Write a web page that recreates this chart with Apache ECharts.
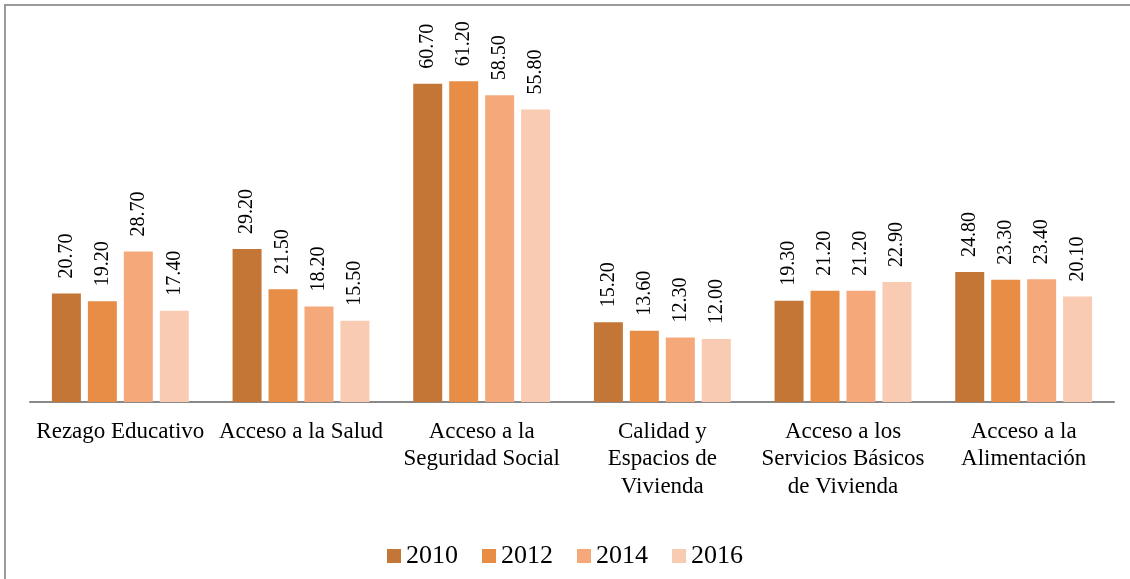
<!DOCTYPE html>
<html><head><meta charset="utf-8">
<script src="https://cdn.jsdelivr.net/npm/echarts@6/dist/echarts.min.js"></script>
<style>html,body{margin:0;padding:0;background:#fff}#c{width:1130px;height:579px}</style>
</head><body><div id="c"></div>
<script>
const categories = ["Rezago Educativo", "Acceso a la Salud", "Acceso a la\nSeguridad Social", "Calidad y\nEspacios de\nVivienda", "Acceso a los\nServicios Básicos\nde Vivienda", "Acceso a la\nAlimentación"];
const years = ["2010", "2012", "2014", "2016"];
const v2010 = [20.7, 29.2, 60.7, 15.2, 19.3, 24.8];
const v2012 = [19.2, 21.5, 61.2, 13.6, 21.2, 23.3];
const v2014 = [28.7, 18.2, 58.5, 12.3, 21.2, 23.4];
const v2016 = [17.4, 15.5, 55.8, 12.0, 22.9, 20.1];
const colors = ["#C47637", "#E88D45", "#F5A97A", "#F8CBB2"];
const seriesData = [v2010, v2012, v2014, v2016];
const chart = echarts.init(document.getElementById('c'));
const font = "'Liberation Serif', 'Times New Roman', serif";
chart.setOption({
  animation: false,
  textStyle: {fontFamily: font},
  graphic: [{type: 'rect', shape: {x: 5, y: 5, width: 1200, height: 700}, style: {fill: 'none', stroke: '#9a9a9a', lineWidth: 2}, silent: true}],
  grid: {left: 30, right: 16, top: 35, bottom: 177, containLabel: false},
  legend: {top: 538, left: 'center', itemWidth: 14, itemHeight: 14, itemGap: 24, icon: 'rect',
    textStyle: {fontFamily: font, fontSize: 26, color: '#000'}, data: years},
  xAxis: {type: 'category', data: categories,
    axisLine: {lineStyle: {color: '#898989', width: 2}}, axisTick: {show: false},
    axisLabel: {interval: 0, fontFamily: font, fontSize: 23, color: '#000', margin: 16, lineHeight: 27.5, verticalAlign: 'top'}},
  yAxis: {type: 'value', min: 0, max: 70, show: false, splitLine: {show: false}},
  series: seriesData.map((d, i) => ({
    name: years[i], type: 'bar', data: d, barWidth: 29, barGap: '24%',
    itemStyle: {color: colors[i]},
    label: {show: true, position: 'top', rotate: 90, align: 'left', verticalAlign: 'middle', distance: 15,
      fontFamily: font, fontSize: 20, color: '#000', formatter: p => p.value.toFixed(2)}
  }))
});
</script></body></html>
